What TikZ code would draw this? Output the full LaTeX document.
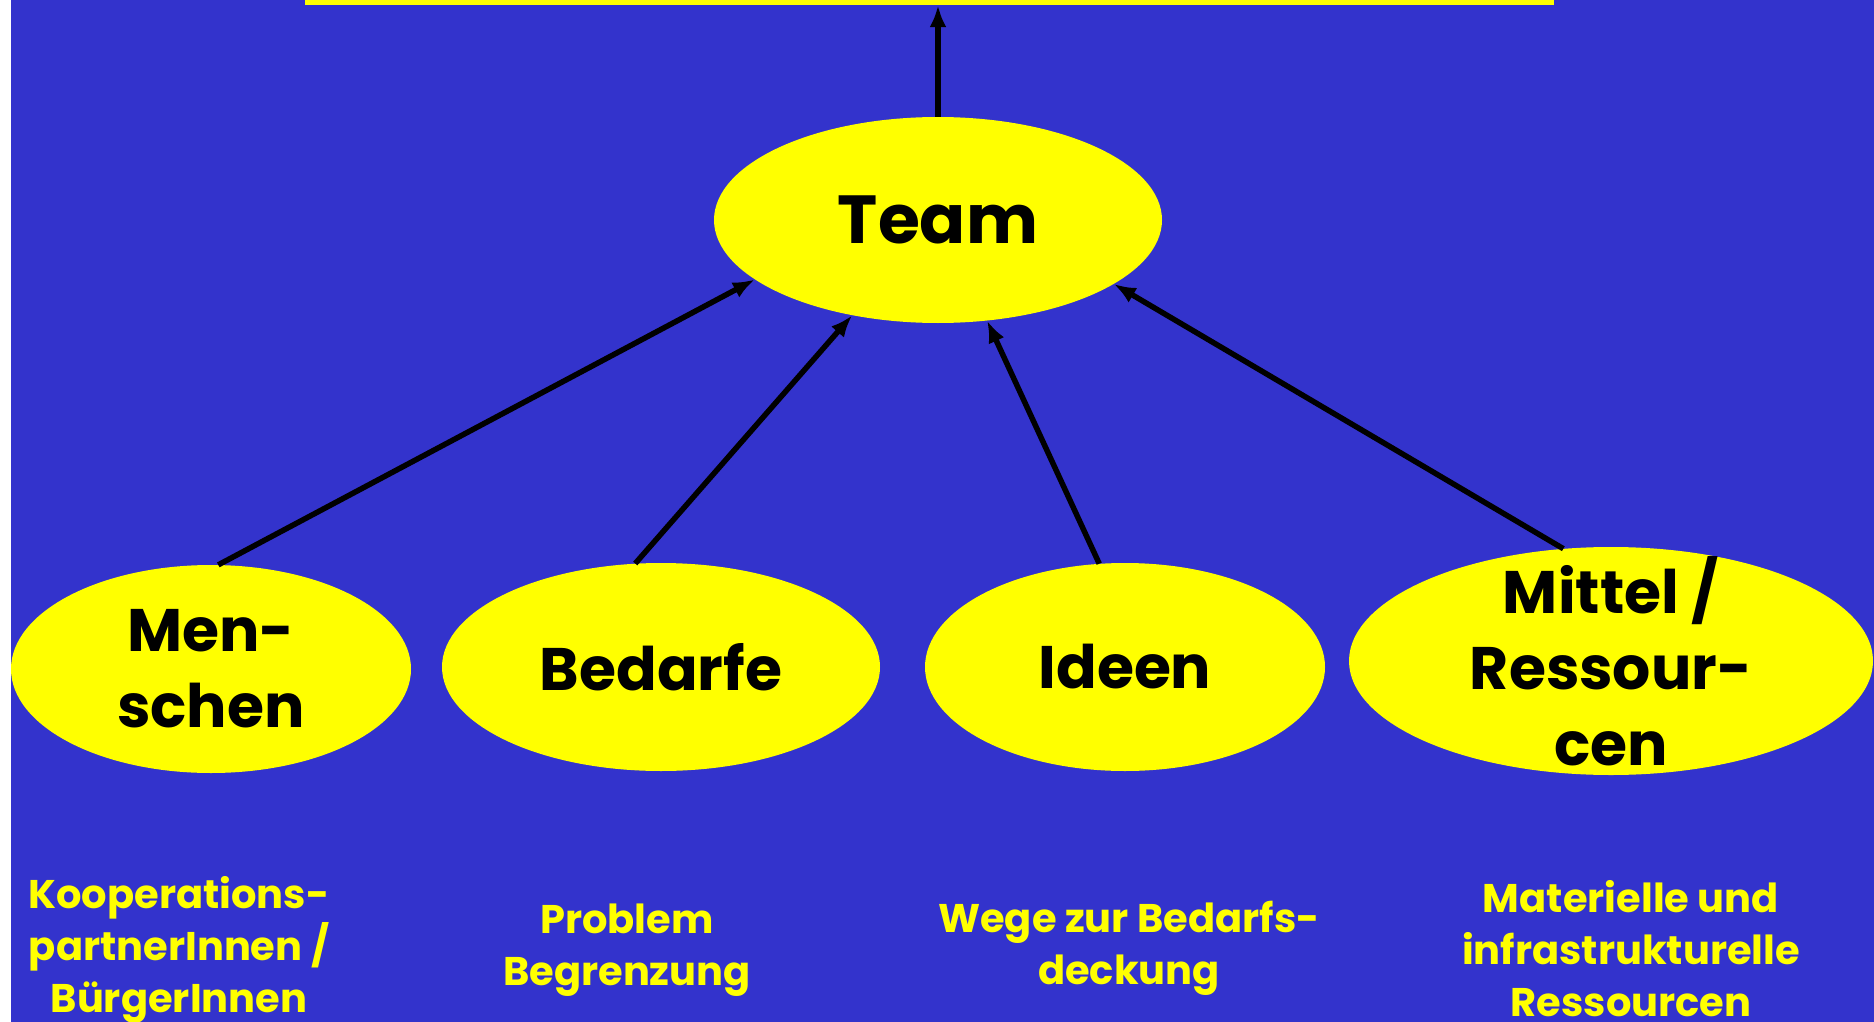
\documentclass[tikz,border=0pt]{standalone}
\usepackage{fontspec}
\setmainfont{Poppins}
\usetikzlibrary{shapes.geometric,arrows.meta}
\definecolor{slideblue}{RGB}{51,51,204}
\definecolor{slideyellow}{RGB}{255,255,0}

\begin{document}
\begin{tikzpicture}[x=1pt,y=-1pt,
  blob/.style={ellipse,fill=slideyellow,inner sep=0pt},
  blobtext/.style={align=center,text=black,font=\fontsize{60}{76}\selectfont\bfseries},
  note/.style={align=center,text=slideyellow,font=\fontsize{40}{52}\selectfont\bfseries},
  arr/.style={line width=5.5pt,-{Latex[length=22pt,width=17pt]}}]
% slide 1874 x 1022, white strip of 11 on the left
\useasboundingbox (0,0) rectangle (1874,1022);
\fill[white] (0,0) rectangle (1874,1022);
\fill[slideblue] (11,0) rectangle (1874,1022);
% box above, cut off at the top edge: 305..1554
\node[fill=slideyellow,inner sep=0pt,minimum width=1249,minimum height=10] (goal) at (929.5,0) {};
\node[blob,minimum width=448,minimum height=206,label={[blobtext,font=\fontsize{68}{80}\selectfont\bfseries]center:Team}] (team) at (938,220) {};
\node[blob,minimum width=400,minimum height=208,label={[blobtext]center:{Men-\\schen}}] (men) at (211,669) {};
\node[blob,minimum width=438,minimum height=208,label={[blobtext]center:Bedarfe}] (bed) at (661,667) {};
\node[blob,minimum width=400,minimum height=208,label={[blobtext]center:Ideen}] (ide) at (1125,667) {};
\node[blob,minimum width=524,minimum height=228,label={[blobtext]center:{Mittel /\\Ressour-\\cen}}] (mit) at (1611,661) {};
\node[note] (menx) at (179,950) {Kooperations-\\partnerInnen /\\BürgerInnen};
\node[note] (bedx) at (627,950) {Problem\\Begrenzung};
\node[note] (idex) at (1129,948) {Wege zur Bedarfs-\\deckung};
\node[note] (mitx) at (1631,949) {Materielle und\\infrastrukturelle\\Ressourcen};
\draw[arr] (team.north) -- (team.north |- goal.south);
\draw[arr] (men.86) -- (team.198);
\draw[arr] (bed.104) -- (team.228);
\draw[arr] (ide.104) -- (team.296);
\draw[arr] (mit.113) -- (team.340);
\end{tikzpicture}
\end{document}
